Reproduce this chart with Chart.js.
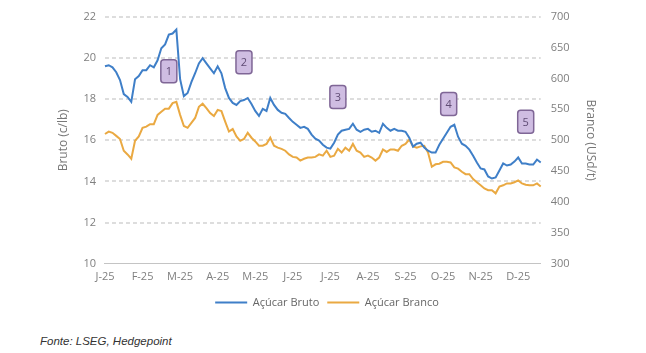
<!DOCTYPE html>
<html>
<head>
<meta charset="utf-8">
<script src="https://cdn.jsdelivr.net/npm/chart.js@4.4.1/dist/chart.umd.min.js"></script>
<style>
  body { margin: 0; background: #fff; }
  #wrap { position: relative; width: 646px; height: 332px; }
  #fonte { position: absolute; left: 40px; top: 335px; font: italic 11.5px "Liberation Sans", Arial, sans-serif; color: #333; }
</style>
</head>
<body>
<div id="wrap"><canvas id="grafico"></canvas></div>
<div id="fonte">Fonte: LSEG, Hedgepoint</div>
<script>
// rótulos dos meses (um a cada 10 amostras)
var meses = ['J-25', 'F-25', 'M-25', 'A-25', 'M-25', 'J-25', 'J-25', 'A-25', 'S-25', 'O-25', 'N-25', 'D-25'];
var porMes = 10;

// Açúcar Bruto (c/lb) - eixo esquerdo
var bruto = [19.59, 19.64, 19.54, 19.30, 18.92, 18.24, 18.10, 17.86, 18.96, 19.11,
  19.40, 19.40, 19.64, 19.54, 19.88, 20.46, 20.65, 21.13, 21.18, 21.37,
  18.96, 18.14, 18.29, 18.82, 19.25, 19.73, 19.98, 19.73, 19.49, 19.25,
  19.59, 19.25, 18.53, 18.05, 17.81, 17.71, 17.90, 17.95, 18.05, 17.76,
  17.42, 17.18, 17.52, 17.42, 18.05, 17.71, 17.47, 17.33, 17.28, 17.08,
  16.89, 16.75, 16.60, 16.65, 16.55, 16.27, 16.07, 15.98, 15.78, 15.64,
  15.59, 15.88, 16.27, 16.46, 16.51, 16.55, 16.80, 16.51, 16.41, 16.51,
  16.55, 16.41, 16.46, 16.36, 16.80, 16.60, 16.46, 16.55, 16.46, 16.46,
  16.41, 16.12, 15.69, 15.83, 15.88, 15.64, 15.49, 15.40, 15.40, 15.78,
  16.07, 16.36, 16.65, 16.75, 16.17, 15.83, 15.73, 15.54, 15.25, 14.92,
  14.63, 14.58, 14.24, 14.14, 14.19, 14.53, 14.87, 14.77, 14.82, 14.96,
  15.16, 14.87, 14.87, 14.82, 14.82, 15.06, 14.92];

// Açúcar Branco (USd/t) - eixo direito
var branco = [510, 514, 512, 507, 502, 483, 477, 470, 499, 506,
  520, 522, 526, 526, 541, 546, 551, 551, 560, 562,
  541, 523, 520, 528, 536, 554, 559, 552, 544, 539,
  549, 547, 530, 514, 518, 506, 499, 502, 512, 504,
  498, 491, 491, 494, 504, 491, 488, 486, 483, 477,
  473, 472, 467, 470, 472, 472, 473, 477, 475, 483,
  473, 475, 486, 480, 488, 483, 494, 483, 480, 473,
  475, 472, 467, 472, 485, 481, 485, 485, 483, 491,
  494, 501, 490, 488, 490, 491, 480, 457, 461, 462,
  465, 465, 464, 456, 454, 449, 445, 445, 437, 432,
  427, 422, 419, 419, 414, 425, 427, 430, 430, 432,
  435, 430, 428, 427, 427, 430, 425];

// marcadores numerados (índice da amostra, valor no eixo esquerdo)
var marcos = [
  { idx: 17, valor: 19.35, texto: '1' },
  { idx: 37, valor: 19.78, texto: '2' },
  { idx: 62, valor: 18.10, texto: '3' },
  { idx: 91.5, valor: 17.76, texto: '4' },
  { idx: 112, valor: 16.89, texto: '5' }
];

var rotulos = bruto.map(function(v, i) {
  return i % porMes === 0 ? meses[i / porMes] : '';
});

// linhas de grade tracejadas nos ticks do eixo esquerdo
var grade = {
  id: 'grade',
  beforeDatasetsDraw: function(chart) {
    var ctx = chart.ctx, area = chart.chartArea, y = chart.scales.y;
    ctx.save();
    ctx.strokeStyle = '#d2d2d2';
    ctx.lineWidth = 1.3;
    ctx.setLineDash([4, 3]);
    y.ticks.forEach(function(t) {
      if (t.value === y.min) return;
      var py = Math.round(y.getPixelForValue(t.value));
      ctx.beginPath();
      ctx.moveTo(area.left, py);
      ctx.lineTo(area.right, py);
      ctx.stroke();
    });
    ctx.restore();
  }
};

var caixas = {
  id: 'caixas',
  afterDatasetsDraw: function(chart) {
    var ctx = chart.ctx;
    var x = chart.scales.x, y = chart.scales.y;
    ctx.save();
    marcos.forEach(function(m) {
      var px = x.getPixelForValue(m.idx);
      var py = y.getPixelForValue(m.valor);
      var w = 16, h = 23;
      ctx.beginPath();
      ctx.roundRect(px - w / 2, py - h / 2, w, h, 3);
      ctx.fillStyle = '#cfbde2';
      ctx.fill();
      ctx.lineWidth = 1.5;
      ctx.strokeStyle = '#7f6696';
      ctx.stroke();
      ctx.fillStyle = '#5f4b74';
      ctx.font = '11px "Open Sans"';
      ctx.textAlign = 'center';
      ctx.textBaseline = 'middle';
      ctx.fillText(m.texto, px, py + 0.5);
    });
    ctx.restore();
  }
};

var cinza = '#7f7f7f';
var fonteTicks = { family: '"Open Sans"', size: 11 };

var ctx = document.getElementById('grafico').getContext('2d');
var grafico = new Chart(ctx, {
  type: 'line',
  data: {
    labels: rotulos,
    datasets: [{
      label: 'Açúcar Bruto',
      data: bruto,
      yAxisID: 'y',
      borderColor: '#3f7fc8',
      backgroundColor: '#3f7fc8',
      borderWidth: 2,
      pointRadius: 0,
      tension: 0
    }, {
      label: 'Açúcar Branco',
      data: branco,
      yAxisID: 'y1',
      borderColor: '#eaa942',
      backgroundColor: '#eaa942',
      borderWidth: 2,
      pointRadius: 0,
      tension: 0
    }]
  },
  options: {
    responsive: true,
    maintainAspectRatio: false,
    animation: false,
    layout: { padding: { left: 52, right: 44, top: 7, bottom: 14 } },
    plugins: {
      tooltip: { enabled: false },
      legend: {
        position: 'bottom',
        labels: {
          boxWidth: 32,
          boxHeight: 0,
          padding: 8,
          color: '#666',
          font: { family: '"Open Sans"', size: 11 }
        }
      }
    },
    scales: {
      x: {
        grid: { drawOnChartArea: false, drawTicks: false },
        border: { display: true, color: '#c4c4c4', width: 1, z: 1 },
        ticks: {
          autoSkip: false,
          maxRotation: 0,
          padding: 6,
          color: cinza,
          font: fonteTicks,
          callback: function(v, i) { return rotulos[i]; }
        }
      },
      y: {
        position: 'left',
        min: 10,
        max: 22,
        ticks: { stepSize: 2, padding: 9, color: cinza, font: fonteTicks },
        grid: { drawOnChartArea: false, drawTicks: false },
        border: { display: false },
        title: { display: true, text: 'Bruto (c/lb)', color: '#777', font: { family: '"Open Sans"', size: 12 } }
      },
      y1: {
        position: 'right',
        min: 300,
        max: 700,
        ticks: { stepSize: 50, padding: 10, color: cinza, font: fonteTicks },
        grid: { drawOnChartArea: false, drawTicks: false },
        border: { display: false },
        title: { display: true, text: 'Branco (USd/t)', color: '#777', font: { family: '"Open Sans"', size: 12 } }
      }
    }
  },
  plugins: [grade, caixas]
});
</script>
</body>
</html>
